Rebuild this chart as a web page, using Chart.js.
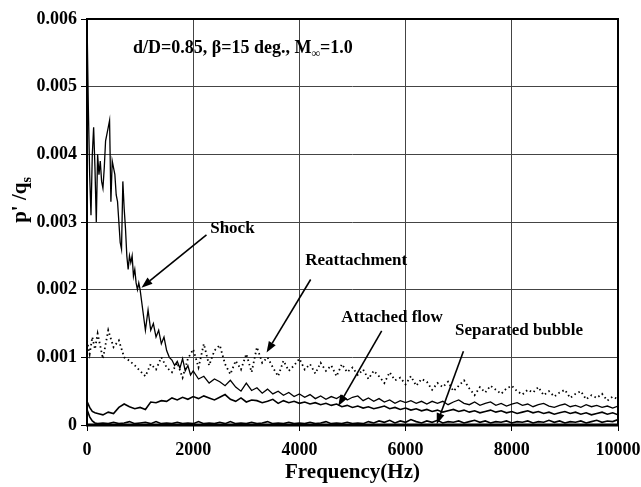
<!DOCTYPE html>
<html>
<head>
<meta charset="utf-8">
<script src="https://cdn.jsdelivr.net/npm/chart.js@4.4.1/dist/chart.umd.min.js"></script>
<style>
  html, body { margin: 0; padding: 0; background: #fff; }
  #wrap { width: 641px; height: 487px; position: relative; }
</style>
</head>
<body>
<div id="wrap"><canvas id="spectrum"></canvas></div>
<script>
// frequency grids (Hz)
const shockHz = [
  0, 25, 50, 75, 100, 125, 150, 175, 200, 225, 250, 275, 300, 325, 350, 375, 400, 425, 450, 475,
  500, 525, 550, 575, 600, 625, 650, 675, 700, 725, 750, 775, 800, 825, 850, 875, 900, 925, 950, 975, 1000,
  1050, 1100, 1150, 1200, 1250, 1300, 1350, 1400, 1450, 1500, 1550, 1600, 1650, 1700, 1750, 1800, 1850, 1900, 1950, 2000,
  2100, 2200, 2300, 2400, 2500, 2600, 2700, 2800, 2900, 3000, 3100, 3200, 3300, 3400, 3500, 3600, 3700, 3800, 3900, 4000,
  4100, 4200, 4300, 4400, 4500, 4600, 4700, 4800, 4900, 5000, 5100, 5200, 5300, 5400, 5500, 5600, 5700, 5800, 5900, 6000,
  6100, 6200, 6300, 6400, 6500, 6600, 6700, 6800, 6900, 7000, 7100, 7200, 7300, 7400, 7500, 7600, 7700, 7800, 7900, 8000,
  8100, 8200, 8300, 8400, 8500, 8600, 8700, 8800, 8900, 9000, 9100, 9200, 9300, 9400, 9500, 9600, 9700, 9800, 9900, 10000
];
const baseHz = [
  0, 50, 100, 150, 200,
  300, 400, 500, 600, 700, 800, 900, 1000, 1100, 1200, 1300, 1400, 1500, 1600, 1700, 1800, 1900, 2000,
  2100, 2200, 2300, 2400, 2500, 2600, 2700, 2800, 2900, 3000, 3100, 3200, 3300, 3400, 3500, 3600, 3700, 3800, 3900, 4000,
  4100, 4200, 4300, 4400, 4500, 4600, 4700, 4800, 4900, 5000, 5100, 5200, 5300, 5400, 5500, 5600, 5700, 5800, 5900, 6000,
  6100, 6200, 6300, 6400, 6500, 6600, 6700, 6800, 6900, 7000, 7100, 7200, 7300, 7400, 7500, 7600, 7700, 7800, 7900, 8000,
  8100, 8200, 8300, 8400, 8500, 8600, 8700, 8800, 8900, 9000, 9100, 9200, 9300, 9400, 9500, 9600, 9700, 9800, 9900, 10000
];

// p'/qs spectra
const shock = [
  0.0060, 0.0047, 0.0037, 0.0031, 0.0040, 0.0044, 0.0038, 0.0030, 0.0040, 0.0037, 0.0039, 0.0036, 0.0035, 0.0038, 0.0042, 0.0043, 0.0044, 0.0045, 0.0033, 0.0039,
  0.0038, 0.0037, 0.0034, 0.0033, 0.0030, 0.0027, 0.0026, 0.0036, 0.0032, 0.0029, 0.0025, 0.0023, 0.0025, 0.0024, 0.0025, 0.0022, 0.0023, 0.0021, 0.0020, 0.0021, 0.0020,
  0.0017, 0.0014, 0.0017, 0.0014, 0.0015, 0.0013, 0.0014, 0.0012, 0.0013, 0.0011, 0.0010, 0.00096, 0.00088, 0.00094, 0.00084, 0.00098, 0.00080, 0.00088, 0.00074, 0.00080,
  0.00068, 0.00072, 0.00062, 0.00068, 0.00064, 0.00058, 0.00066, 0.00056, 0.00050, 0.00062, 0.00051, 0.00055, 0.00047, 0.00053, 0.00046, 0.00050, 0.00044, 0.00048, 0.00042, 0.00046,
  0.00041, 0.00045, 0.00039, 0.00043, 0.00038, 0.00042, 0.00039, 0.00044, 0.00037, 0.00041, 0.00043, 0.00036, 0.00040, 0.00035, 0.00039, 0.00034, 0.00037, 0.00032, 0.00036, 0.00033,
  0.00036, 0.00032, 0.00035, 0.00031, 0.00035, 0.00032, 0.00035, 0.00030, 0.00034, 0.00037, 0.00032, 0.00030, 0.00034, 0.00029, 0.00032, 0.00034, 0.00029, 0.00032, 0.00028, 0.00031,
  0.00033, 0.00029, 0.00031, 0.00027, 0.00030, 0.00032, 0.00028, 0.00026, 0.00029, 0.00031, 0.00027, 0.00029, 0.00026, 0.00030, 0.00027, 0.00029, 0.00026, 0.00028, 0.00025, 0.00028
];
const reattachment = [
  0.00125, 0.00105, 0.00130, 0.00112, 0.00135,
  0.00098, 0.00140, 0.00115, 0.00125, 0.00100, 0.00095, 0.00088, 0.00080, 0.00072, 0.00090, 0.00082, 0.00100, 0.00085, 0.00078, 0.00092, 0.00070, 0.00098, 0.00112,
  0.00085, 0.00120, 0.00088, 0.00110, 0.00118, 0.00090, 0.00075, 0.00095, 0.00082, 0.00105, 0.00078, 0.00115, 0.00092, 0.00100, 0.00085, 0.00072, 0.00095, 0.00080, 0.00088, 0.00098,
  0.00082, 0.00090, 0.00076, 0.00092, 0.00080, 0.00088, 0.00072, 0.00090, 0.00078, 0.00085, 0.00074, 0.00082, 0.00068, 0.00080, 0.00072, 0.00062, 0.00078, 0.00066, 0.00070, 0.00060,
  0.00072, 0.00058, 0.00068, 0.00064, 0.00052, 0.00062, 0.00056, 0.00064, 0.00050, 0.00058, 0.00066, 0.00054, 0.00044, 0.00056, 0.00048, 0.00058, 0.00052, 0.00046, 0.00054, 0.00058,
  0.00050, 0.00045, 0.00052, 0.00048, 0.00056, 0.00044, 0.00050, 0.00042, 0.00048, 0.00052, 0.00040, 0.00046, 0.00050, 0.00038, 0.00044, 0.00040, 0.00046, 0.00036, 0.00042, 0.00038
];
const attachedFlow = [
  0.00035, 0.00026, 0.00020, 0.00018, 0.00017,
  0.00015, 0.00019, 0.00017, 0.00026, 0.00031, 0.00027, 0.00024, 0.00026, 0.00023, 0.00034, 0.00033, 0.00036, 0.00035, 0.00040, 0.00037, 0.00041, 0.00038, 0.00042,
  0.00039, 0.00043, 0.00040, 0.00037, 0.00041, 0.00045, 0.00038, 0.00035, 0.00040, 0.00034, 0.00037, 0.00036, 0.00033, 0.00035, 0.00038, 0.00032, 0.00036, 0.00033, 0.00035, 0.00032,
  0.00034, 0.00031, 0.00033, 0.00030, 0.00032, 0.00029, 0.00031, 0.00027, 0.00029, 0.00026, 0.00028, 0.00025, 0.00027, 0.00024, 0.00026, 0.00028, 0.00024, 0.00026, 0.00023, 0.00025,
  0.00022, 0.00024, 0.00021, 0.00023, 0.00020, 0.00022, 0.00019, 0.00021, 0.00023, 0.00020, 0.00022, 0.00019, 0.00021, 0.00018, 0.00020, 0.00022, 0.00019, 0.00021, 0.00018, 0.00020,
  0.00017, 0.00019, 0.00021, 0.00018, 0.00020, 0.00017, 0.00019, 0.00016, 0.00018, 0.00020, 0.00017, 0.00019, 0.00016, 0.00018, 0.00015, 0.00017, 0.00019, 0.00016, 0.00018, 0.00015
];
const separatedBubble = [
  0.00023, 0.00012, 0.00006, 0.00003, 0.00002,
  0.00003, 0.00002, 0.00004, 0.00002, 0.00003, 0.00005, 0.00002, 0.00003, 0.00004, 0.00002, 0.00005, 0.00002, 0.00003, 0.00002, 0.00004, 0.00002, 0.00003, 0.00002,
  0.00005, 0.00002, 0.00003, 0.00002, 0.00004, 0.00002, 0.00005, 0.00002, 0.00003, 0.00002, 0.00004, 0.00002, 0.00003, 0.00005, 0.00002, 0.00003, 0.00002, 0.00004, 0.00002, 0.00003,
  0.00002, 0.00004, 0.00002, 0.00003, 0.00005, 0.00002, 0.00003, 0.00002, 0.00004, 0.00002, 0.00003, 0.00002, 0.00005, 0.00003, 0.00006, 0.00004, 0.00007, 0.00003, 0.00006, 0.00004,
  0.00008, 0.00005, 0.00003, 0.00006, 0.00004, 0.00007, 0.00003, 0.00005, 0.00004, 0.00006, 0.00003, 0.00005, 0.00007, 0.00004, 0.00006, 0.00003, 0.00005, 0.00004, 0.00006, 0.00003,
  0.00005, 0.00004, 0.00006, 0.00003, 0.00005, 0.00004, 0.00007, 0.00004, 0.00006, 0.00003, 0.00005, 0.00004, 0.00006, 0.00003, 0.00005, 0.00007, 0.00004, 0.00006, 0.00005, 0.00008
];

// axis ticks
const xTicks = ['0', '2000', '4000', '6000', '8000', '10000'];
const yTicks = ['0', '0.001', '0.002', '0.003', '0.004', '0.005', '0.006'];

// callouts: label anchor, leader tail and arrow tip in (Hz, p'/qs)
const callouts = [
  { text: 'Shock', at: [2320, 0.00290], tail: [2250, 0.00281], tip: [1026, 0.00203] },
  { text: 'Reattachment', at: [4110, 0.00243], tail: [4212, 0.00215], tip: [3382, 0.00107] },
  { text: 'Attached flow', at: [4790, 0.00158], tail: [5550, 0.00139], tip: [4732, 0.00028] },
  { text: 'Separated bubble', at: [6930, 0.00139], tail: [7089, 0.00109], tip: [6587, 0.00001] },
];
const caseLabel = { at: [867, 0.00556] };

const serif = '"Liberation Serif", "Times New Roman", serif';
const pts = (xs, ys) => xs.map((x, i) => ({ x, y: ys[i] }));

const overlay = {
  id: 'overlay',
  afterDatasetsDraw(chart) {
    const { ctx, chartArea: area, scales: { x, y } } = chart;
    const px = (p) => [x.getPixelForValue(p[0]), y.getPixelForValue(p[1])];
    ctx.save();

    // frame
    ctx.strokeStyle = '#000';
    ctx.lineWidth = 2;
    ctx.strokeRect(area.left, area.top, area.right - area.left, area.bottom - area.top);
    ctx.lineWidth = 3;
    ctx.beginPath();
    ctx.moveTo(area.left - 1, area.bottom);
    ctx.lineTo(area.right + 1, area.bottom);
    ctx.stroke();

    // callouts with arrows
    ctx.fillStyle = '#000';
    ctx.font = `bold 17px ${serif}`;
    ctx.textBaseline = 'middle';
    callouts.forEach((c) => {
      const [lx, ly] = px(c.at);
      ctx.fillText(c.text, lx, ly);
      const [tx, ty] = px(c.tail);
      const [hx, hy] = px(c.tip);
      const ang = Math.atan2(hy - ty, hx - tx);
      const len = 11, half = 4;
      const bx = hx - len * Math.cos(ang), by = hy - len * Math.sin(ang);
      ctx.lineWidth = 1.6;
      ctx.beginPath();
      ctx.moveTo(tx, ty);
      ctx.lineTo(bx, by);
      ctx.stroke();
      ctx.beginPath();
      ctx.moveTo(hx, hy);
      ctx.lineTo(bx + half * Math.sin(ang), by - half * Math.cos(ang));
      ctx.lineTo(bx - half * Math.sin(ang), by + half * Math.cos(ang));
      ctx.closePath();
      ctx.fill();
    });

    // case parameters
    let [cx, cy] = px(caseLabel.at);
    const big = `bold 18px ${serif}`, small = `bold 12px ${serif}`;
    ctx.font = big;
    const head = 'd/D=0.85, \u03b2=15 deg., M';
    ctx.fillText(head, cx, cy);
    cx += ctx.measureText(head).width;
    ctx.font = small;
    ctx.fillText('\u221e', cx, cy + 5);
    cx += ctx.measureText('\u221e').width;
    ctx.font = big;
    ctx.fillText('=1.0', cx, cy);

    // y axis title p'/qs
    ctx.translate(21, (area.top + area.bottom) / 2 - 22);
    ctx.rotate(-Math.PI / 2);
    ctx.font = `bold 21px ${serif}`;
    const main = "p' /q";
    const w1 = ctx.measureText(main).width;
    ctx.font = `bold 14px ${serif}`;
    const w2 = ctx.measureText('s').width;
    ctx.font = `bold 21px ${serif}`;
    ctx.fillText(main, -(w1 + w2) / 2, 0);
    ctx.font = `bold 14px ${serif}`;
    ctx.fillText('s', -(w1 + w2) / 2 + w1, 6);
    ctx.restore();
  },
};

const line = (label, xs, ys, extra) => Object.assign({
  label,
  data: pts(xs, ys),
  borderColor: '#000',
  borderWidth: 1.4,
  pointRadius: 0,
  tension: 0,
  fill: false,
}, extra);

new Chart(document.getElementById('spectrum'), {
  type: 'line',
  data: {
    datasets: [
      line('Separated bubble', baseHz, separatedBubble, { borderWidth: 1.6 }),
      line('Attached flow', baseHz, attachedFlow, { borderWidth: 1.6 }),
      line('Reattachment', baseHz, reattachment, { borderWidth: 1.8, borderDash: [1.5, 3] }),
      line('Shock', shockHz, shock, { borderWidth: 1.3 }),
    ],
  },
  options: {
    responsive: true,
    maintainAspectRatio: false,
    animation: false,
    layout: { padding: { left: 0, top: 19, right: 23, bottom: 0 } },
    plugins: { legend: { display: false }, tooltip: { enabled: false } },
    scales: {
      x: {
        type: 'linear',
        min: 0,
        max: 10000,
        afterBuildTicks: (scale) => { scale.ticks = xTicks.map((t) => ({ value: Number(t) })); },
        afterFit: (scale) => {
          scale.height = 62;
          scale.paddingLeft = 0;
          scale.paddingRight = 0;
        },
        grid: { color: '#444', lineWidth: 1, tickLength: 6, tickColor: '#000' },
        border: { display: false },
        ticks: {
          color: '#000',
          padding: 9,
          maxRotation: 0,
          font: { family: serif, size: 18, weight: 'bold' },
          callback: (_v, i) => xTicks[i],
        },
        title: {
          display: true,
          text: 'Frequency(Hz)',
          color: '#000',
          padding: { top: 0, bottom: 2 },
          font: { family: serif, size: 21, weight: 'bold' },
        },
      },
      y: {
        type: 'linear',
        min: 0,
        max: 0.006,
        afterBuildTicks: (scale) => { scale.ticks = yTicks.map((t) => ({ value: Number(t) })); },
        afterFit: (scale) => { scale.width = 87; },
        grid: { color: '#444', lineWidth: 1, tickLength: 6, tickColor: '#000' },
        border: { display: false },
        ticks: {
          color: '#000',
          padding: 4,
          font: { family: serif, size: 18, weight: 'bold' },
          callback: (_v, i) => yTicks[i],
        },
      },
    },
  },
  plugins: [overlay],
});
</script>
</body>
</html>
